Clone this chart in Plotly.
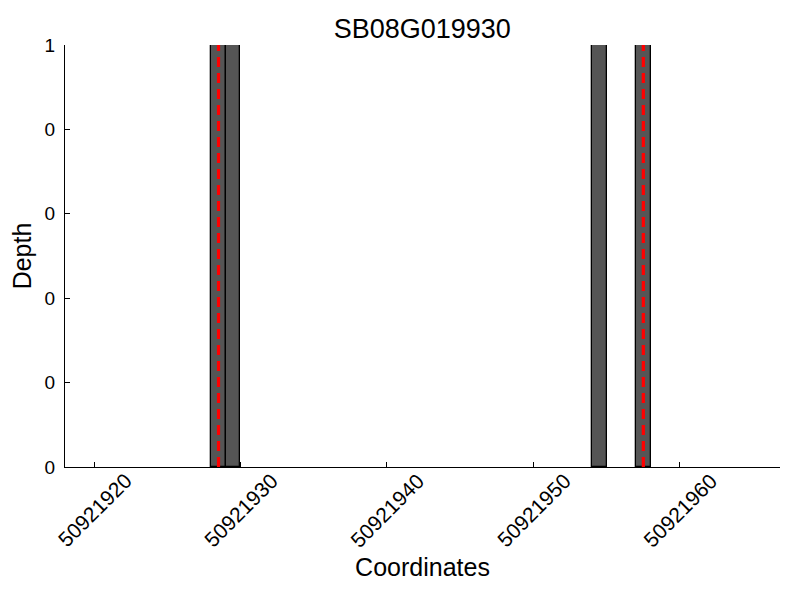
import plotly.graph_objects as go

# read depth per coordinate
positions = [50921928, 50921929, 50921954, 50921957]
depths = [1, 1, 1, 1]
marker_sites = [50921928.5, 50921957.5]

y_ticks = [0, 0.2, 0.4, 0.6, 0.8, 1.0]
y_ticklabels = ["0", "0", "0", "0", "0", "1"]
x_ticks = [50921920, 50921930, 50921940, 50921950, 50921960]

fig = go.Figure()
fig.add_trace(go.Bar(
    x=positions,
    y=depths,
    width=1,
    offset=0,
    marker=dict(color="#555555", line=dict(color="black", width=1.3)),
    showlegend=False,
))

for site in marker_sites:
    fig.add_vline(x=site, line=dict(color="red", width=3.2, dash="10px,6px"))

# rotated x tick labels, centred under each tick
for t in x_ticks:
    fig.add_annotation(
        x=t, xref="x", y=-0.102, yref="paper",
        text=str(t), textangle=-45, showarrow=False,
        xanchor="center", yanchor="middle",
        font=dict(size=21),
    )

fig.update_layout(
    width=792,
    height=592,
    title=dict(text="SB08G019930", x=0.523, xanchor="center",
               y=0.965, yanchor="middle", font=dict(size=27, color="black")),
    font=dict(family="Liberation Sans, Arial, sans-serif", color="black"),
    plot_bgcolor="white",
    paper_bgcolor="white",
    margin=dict(l=57, r=20, t=37, b=133, autoexpand=False),
    bargap=0,
    xaxis=dict(
        title=dict(text="Coordinates", font=dict(size=25), standoff=91),
        range=[50921918.02, 50921966.83],
        tickvals=x_ticks,
        showticklabels=False,
        ticks="inside",
        ticklen=5,
        tickcolor="black",
        showline=True,
        linecolor="black",
        linewidth=1,
        showgrid=False,
        zeroline=False,
        automargin=False,
    ),
    yaxis=dict(
        title=dict(text="Depth", font=dict(size=25), standoff=13),
        range=[0, 1],
        tickvals=y_ticks,
        ticktext=y_ticklabels,
        tickfont=dict(size=19),
        ticks="inside",
        ticklen=5,
        tickcolor="black",
        ticklabelstandoff=5,
        showline=True,
        linecolor="black",
        linewidth=1,
        showgrid=False,
        zeroline=False,
        automargin=False,
    ),
)

fig.write_html("out.html")
